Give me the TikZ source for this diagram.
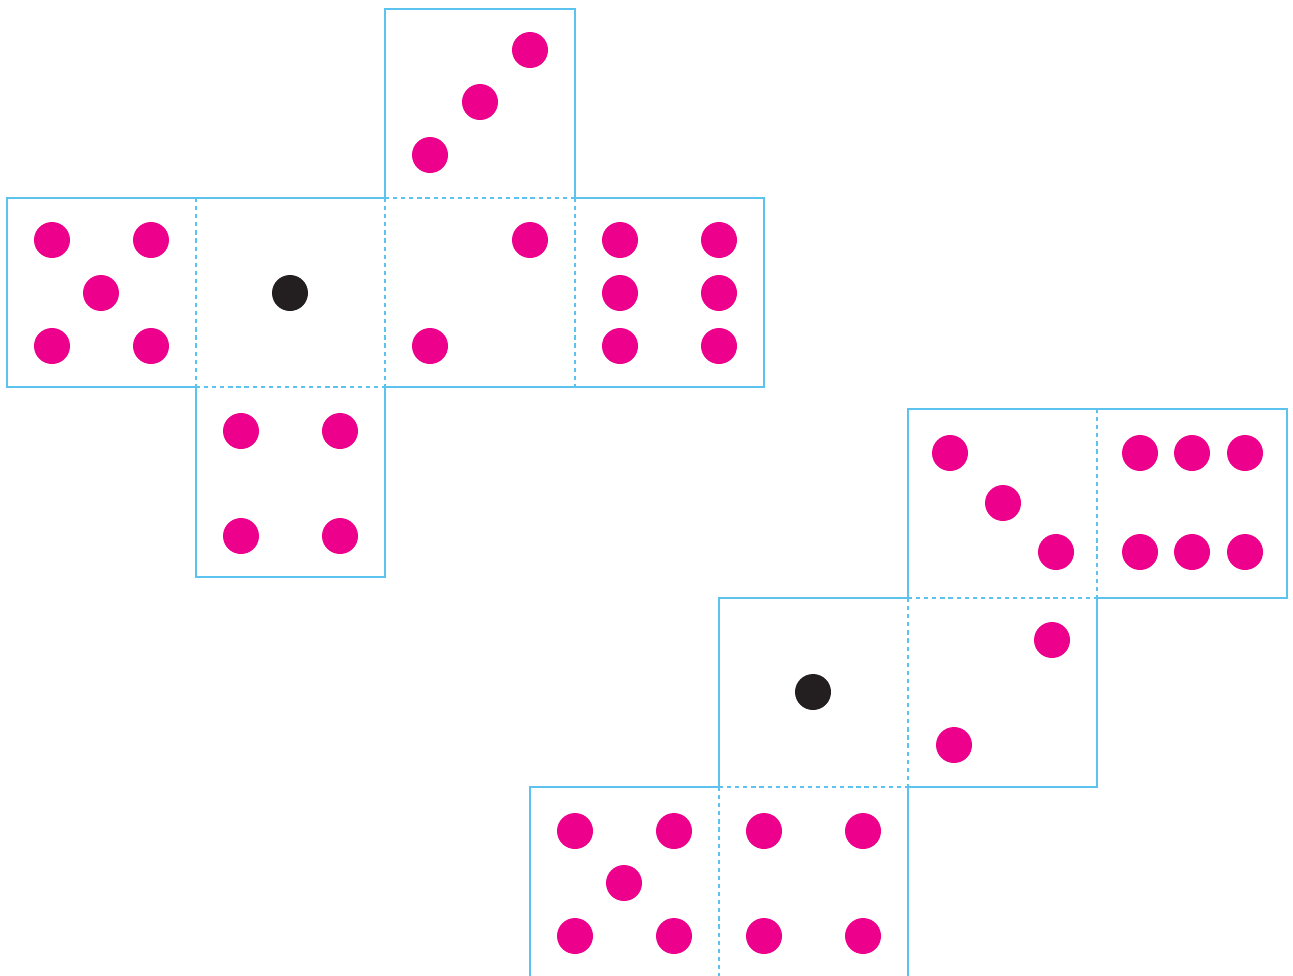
\documentclass[tikz,border=0pt]{standalone}
\usepackage{tikz}
\usetikzlibrary{positioning}
\definecolor{netblue}{RGB}{92,194,238}
\definecolor{pipred}{RGB}{236,0,140}
\definecolor{pipdark}{RGB}{35,31,32}
\tikzset{
  edgeline/.style={draw=netblue,line width=1.4pt,line join=miter},
  foldline/.style={draw=netblue,line width=1.4pt,dash pattern=on 2.4pt off 2.2pt},
  pip/.style={circle,fill=pipred,inner sep=0pt,minimum size=0.72cm},
  onepip/.style={circle,fill=pipdark,inner sep=0pt,minimum size=0.72cm}
}
\begin{document}
\begin{tikzpicture}[x=0.02cm,y=-0.02cm]
\useasboundingbox (0,0) rectangle (1293,975);
\clip (0,0) rectangle (1293,975);
% first net
\draw[edgeline] (385,9) -- (575,9) -- (575,198) -- (764,198) -- (764,387) -- (385,387) -- (385,577) -- (196,577) -- (196,387) -- (7,387) -- (7,198) -- (385,198) -- cycle;
\draw[foldline] (196,198) -- (196,387);
\draw[foldline] (385,198) -- (385,387);
\draw[foldline] (575,198) -- (575,387);
\draw[foldline] (385,198) -- (575,198);
\draw[foldline] (196,387) -- (385,387);
% three
\node[pip] (a3a) at (430,155) {};
\node[pip] (a3b) at (480,102) {};
\node[pip] (a3c) at (530,50) {};
% five
\node[pip] (a5a) at (52,240) {};
\node[pip] (a5b) at (151,240) {};
\node[pip] (a5c) at (101,293) {};
\node[pip] (a5d) at (52,346) {};
\node[pip] (a5e) at (151,346) {};
% one
\node[onepip] (a1) at (290,293) {};
% two
\node[pip] (a2a) at (530,240) {};
\node[pip] (a2b) at (430,346) {};
% six
\node[pip] (a6a) at (620,240) {};
\node[pip] (a6b) at (719,240) {};
\node[pip] (a6c) at (620,293) {};
\node[pip] (a6d) at (719,293) {};
\node[pip] (a6e) at (620,346) {};
\node[pip] (a6f) at (719,346) {};
% four
\node[pip] (a4a) at (241,431) {};
\node[pip] (a4b) at (340,431) {};
\node[pip] (a4c) at (241,536) {};
\node[pip] (a4d) at (340,536) {};
% second net
\draw[edgeline] (908,409) -- (1287,409) -- (1287,598) -- (1097,598) -- (1097,787) -- (908,787) -- (908,1000) -- (530,1000) -- (530,787) -- (719,787) -- (719,598) -- (908,598) -- cycle;
\draw[foldline] (1097,409) -- (1097,598);
\draw[foldline] (908,598) -- (1097,598);
\draw[foldline] (908,598) -- (908,787);
\draw[foldline] (719,787) -- (908,787);
\draw[foldline] (719,787) -- (719,1000);
% three
\node[pip] (b3a) at (950,453) {};
\node[pip] (b3b) at (1003,503) {};
\node[pip] (b3c) at (1056,552) {};
% six
\node[pip] (b6a) at (1140,453) {};
\node[pip] (b6b) at (1192,453) {};
\node[pip] (b6c) at (1245,453) {};
\node[pip] (b6d) at (1140,552) {};
\node[pip] (b6e) at (1192,552) {};
\node[pip] (b6f) at (1245,552) {};
% one
\node[onepip] (b1) at (813,692) {};
% two
\node[pip] (b2a) at (1052,640) {};
\node[pip] (b2b) at (954,745) {};
% five
\node[pip] (b5a) at (575,831) {};
\node[pip] (b5b) at (674,831) {};
\node[pip] (b5c) at (624,883) {};
\node[pip] (b5d) at (575,936) {};
\node[pip] (b5e) at (674,936) {};
% four
\node[pip] (b4a) at (764,831) {};
\node[pip] (b4b) at (863,831) {};
\node[pip] (b4c) at (764,936) {};
\node[pip] (b4d) at (863,936) {};
\end{tikzpicture}
\end{document}
